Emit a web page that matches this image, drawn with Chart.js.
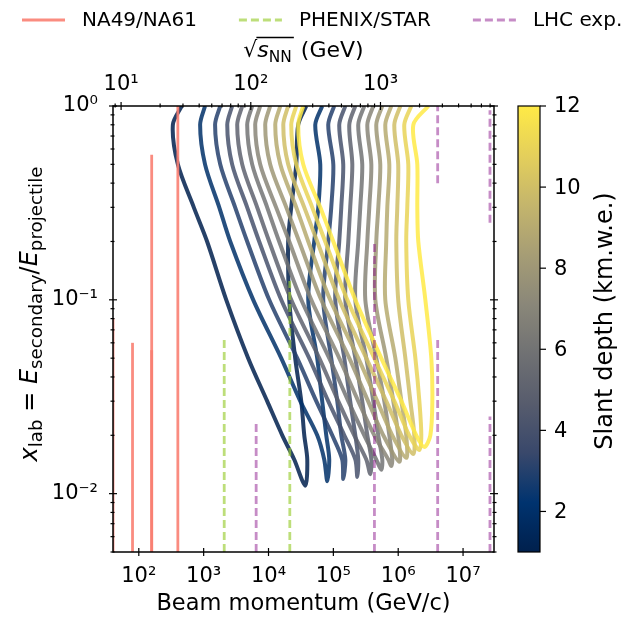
<!DOCTYPE html>
<html>
<head>
<meta charset="utf-8">
<script src="https://cdn.jsdelivr.net/npm/chart.js@4.4.1/dist/chart.umd.min.js"></script>
<style>
  html, body { margin: 0; padding: 0; background: #fff; }
  #wrap { width: 621px; height: 618px; }
</style>
</head>
<body>
<div id="wrap"><canvas id="chart" width="621" height="618"></canvas></div>
<script>
// slant depth of each contour (km.w.e.)
const depths = [1, 2, 3, 4, 5, 6, 7, 8, 9, 10, 11, 12];
const depthMin = 1;
const depthMax = 12;

const xlabLevels = [1.0, 0.8, 0.5, 0.3, 0.2, 0.1, 0.05, 0.03, 0.02, 0.015];

// beam momentum (GeV/c) of the low-momentum side of each contour, one entry per level
const leftBranch = [
  [460, 335, 400, 705, 1130, 2230, 4860, 9540, 16300, 24900],
  [1050, 882, 1050, 1740, 2570, 5810, 15700, 30900, 56400, 72300],
  [1800, 1500, 1800, 3060, 4690, 10250, 27700, 54500, 96100, 137000],
  [2750, 2310, 2750, 4690, 7180, 15700, 42400, 83400, 147500, 218000],
  [3930, 3290, 3930, 6690, 10250, 22400, 60600, 119000, 210000, 322000],
  [5600, 4690, 5600, 9540, 14600, 32000, 86400, 170000, 300000, 459000],
  [7440, 6230, 7440, 13100, 20900, 45600, 123300, 242000, 428000, 703000],
  [10600, 8890, 10600, 18800, 29700, 65000, 176000, 343000, 589000, null],
  [15200, 12700, 15200, 26800, 41000, 89300, 242000, 475000, 810000, null],
  [20100, 16900, 20100, 35600, 56400, 123300, 322000, 654000, 1120000, null],
  [26800, 22400, 26800, 47200, 74900, 164000, 428000, 871000, 1480000, null],
  [34300, 28700, 34300, 62800, 99800, 218000, 548000, 1120000, 1900000, null]
];

// lowest point of each contour
const tipMomentum = [36900, 80500, 142000, 234000, 371000, 548000, 782000, 1040000, 1330000, 1710000, 2120000, 2530000];
const tipXlab = [0.011, 0.0116, 0.0119, 0.0122, 0.0126, 0.0133, 0.0139, 0.0146, 0.0153, 0.016, 0.0168, 0.0174];

// beam momentum (GeV/c) of the high-momentum side of each contour, one entry per level
const rightBranch = [
  [38200, 28700, 26800, 22400, 20100, 20900, 25800, 32000, 35600, 39600],
  [67300, 52600, 62800, 58600, 50700, 41000, 56400, 67300, 77700, 86400],
  [103000, 83400, 99800, 92800, 83400, 69800, 92800, 115000, 132500, 153000],
  [153000, 123300, 142000, 132500, 123300, 107000, 147500, 182000, 218000, 242000],
  [218000, 176000, 196000, 182000, 170000, 153000, 218000, 279000, 334000, 385000],
  [300000, 242000, 279000, 260000, 242000, 218000, 322000, 413000, 493000, 568000],
  [413000, 334000, 385000, 358000, 334000, 311000, 459000, 610000, 729000, 810000],
  [568000, 459000, 529000, 493000, 459000, 444000, 654000, 840000, 1000000, null],
  [782000, 632000, 729000, 679000, 654000, 632000, 903000, 1120000, 1330000, null],
  [1080000, 871000, 1000000, 968000, 934000, 1000000, 1290000, 1540000, 1770000, null],
  [1590000, 1240000, 1430000, 1380000, 1330000, 1430000, 1840000, 2120000, 2270000, null],
  [2910000, 1710000, 1970000, 1970000, 2040000, 2620000, 3240000, 3360000, 3130000, null]
];

// fixed-target and collider coverage
const xlabFloor = 0.005;
const naMomentum = [40, 80, 158, 158, 400];
const naTop = [0.08, 0.06, 0.055, 0.56, 1.0];
const rhicMomentum = [2075, 21300];
const rhicTop = [0.064, 0.125];
const lhcMomentum = [6450, 430000, 4060000, 4060000, 26000000, 26000000];
const lhcLow = [0.005, 0.005, 0.005, 0.4, 0.005, 0.25];
const lhcHigh = [0.023, 0.2, 0.065, 1.0, 0.025, 0.95];

const legendLabels = ['NA49/NA61', 'PHENIX/STAR', 'LHC exp.'];
const cbarTicks = [2, 4, 6, 8, 10, 12];

const pMin = 40, pMax = 3.0e7;
const yMin = 0.005, yMax = 1;
const protonMass = 0.938;

const family = 'DejaVu Sans';
const black = '#000';
const naColor = 'rgba(250,128,114,0.9)';
const rhicColor = 'rgba(154,205,50,0.65)';
const lhcColor = 'rgba(128,0,128,0.45)';

const cividisStops = ['#00204D', '#00336F', '#39486B', '#575C6D', '#707173', '#8A8779', '#A69D75', '#C4B56C', '#E4CF5B', '#FFEA46'];
function hexToRgb(h) { return [1, 3, 5].map(i => parseInt(h.slice(i, i + 2), 16)); }
function cividis(t, alpha) {
  t = Math.min(1, Math.max(0, t));
  const pos = t * (cividisStops.length - 1);
  const i = Math.min(Math.floor(pos), cividisStops.length - 2);
  const f = pos - i;
  const a = hexToRgb(cividisStops[i]), b = hexToRgb(cividisStops[i + 1]);
  const c = a.map((v, k) => Math.round(v + (b[k] - v) * f));
  return `rgba(${c[0]},${c[1]},${c[2]},${alpha})`;
}

function isDecade(v) { const e = Math.log10(v); return Math.abs(e - Math.round(e)) < 1e-6; }
const supMap = {'-': '\u207B', '0': '\u2070', '1': '\u00B9', '2': '\u00B2', '3': '\u00B3', '4': '\u2074', '5': '\u2075', '6': '\u2076', '7': '\u2077', '8': '\u2078', '9': '\u2079'};
function decadeLabel(v) {
  if (!isDecade(v)) return '';
  return '10' + String(Math.round(Math.log10(v))).split('').map(c => supMap[c]).join('');
}
function logTicks(min, max) {
  const out = [];
  for (let e = Math.floor(Math.log10(min)); e <= Math.ceil(Math.log10(max)); e++) {
    for (let k = 1; k <= 9; k++) {
      const v = k * Math.pow(10, e);
      if (v >= min * 0.9999 && v <= max * 1.0001) out.push({value: v});
    }
  }
  return out;
}

function contourPoints(i) {
  const pts = [];
  xlabLevels.forEach((y, k) => { if (leftBranch[i][k] !== null) pts.push({x: leftBranch[i][k], y}); });
  pts.push({x: tipMomentum[i], y: tipXlab[i]});
  for (let k = xlabLevels.length - 1; k >= 0; k--) {
    if (rightBranch[i][k] !== null) pts.push({x: rightBranch[i][k], y: xlabLevels[k]});
  }
  return pts;
}

function refLine(p, lo, hi, color, dash) {
  return {
    data: [{x: p, y: lo}, {x: p, y: hi}],
    showLine: true, borderColor: color, borderWidth: 2.8, borderDash: dash,
    pointRadius: 0, order: 0, clip: 0
  };
}

const datasets = [];
depths.forEach((d, i) => {
  datasets.push({
    label: 'depth ' + d,
    data: contourPoints(i),
    showLine: true,
    borderColor: cividis((d - depthMin) / (depthMax - depthMin), 0.85),
    borderWidth: 4,
    borderJoinStyle: 'round',
    pointRadius: 0,
    tension: 0.3,
    order: 100 - i,
    clip: 0
  });
});
naMomentum.forEach((p, i) => datasets.push(refLine(p, xlabFloor, naTop[i], naColor, [])));
rhicMomentum.forEach((p, i) => datasets.push(refLine(p, xlabFloor, rhicTop[i], rhicColor, [8, 4])));
lhcMomentum.forEach((p, i) => datasets.push(refLine(p, lhcLow[i], lhcHigh[i], lhcColor, [8, 4])));

const tickFont = {family, size: 21};

function drawRun(ctx, parts, x, y, size, subScale, measureOnly) {
  parts.forEach(p => {
    const s = p.sub ? size * subScale : size;
    ctx.font = `${p.it ? 'italic ' : ''}${s}px "${family}"`;
    if (!measureOnly) ctx.fillText(p.t, x, y + (p.sub ? size * 0.22 : 0));
    x += ctx.measureText(p.t).width;
  });
  return x;
}

const decorations = {
  id: 'decorations',
  afterDraw(chart) {
    const {ctx, chartArea: a, scales} = chart;
    ctx.save();
    ctx.strokeStyle = black;
    ctx.fillStyle = black;
    const seg = (x1, y1, x2, y2) => { ctx.beginPath(); ctx.moveTo(x1, y1); ctx.lineTo(x2, y2); ctx.stroke(); };

    // tick marks
    ctx.lineWidth = 1.2;
    scales.x.ticks.forEach(t => {
      if (!isDecade(t.value)) return;
      const px = scales.x.getPixelForValue(t.value);
      seg(px, a.bottom - 4, px, a.bottom + 4);
    });
    scales.x2.ticks.forEach(t => {
      const px = scales.x2.getPixelForValue(t.value);
      if (isDecade(t.value)) seg(px, a.top - 4, px, a.top + 4);
      else seg(px, a.top - 2.5, px, a.top + 1.5);
    });
    scales.y.ticks.forEach(t => {
      const py = scales.y.getPixelForValue(t.value);
      if (isDecade(t.value)) { seg(a.left - 4, py, a.left + 4, py); seg(a.right - 4, py, a.right + 4, py); }
      else { seg(a.left - 2.5, py, a.left + 1.5, py); seg(a.right - 1.5, py, a.right + 2.5, py); }
    });
    ctx.lineWidth = 1.5;
    ctx.strokeRect(a.left, a.top, a.right - a.left, a.bottom - a.top);

    // legend row
    const styles = [[naColor, []], [rhicColor, [8, 4]], [lhcColor, [8, 4]]];
    let lx = 22;
    const ly = 20;
    ctx.font = `20px "${family}"`;
    ctx.textBaseline = 'middle';
    ctx.textAlign = 'left';
    legendLabels.forEach((label, i) => {
      ctx.strokeStyle = styles[i][0];
      ctx.lineWidth = 2.8;
      ctx.setLineDash(styles[i][1]);
      seg(lx, ly, lx + 43, ly);
      ctx.setLineDash([]);
      ctx.fillStyle = black;
      ctx.fillText(label, lx + 60, ly + 1);
      lx += 60 + ctx.measureText(label).width + 42;
    });

    // y axis title
    ctx.textBaseline = 'alphabetic';
    ctx.strokeStyle = black;
    const yParts = [
      {t: 'x', it: true}, {t: 'lab', sub: true}, {t: ' = '},
      {t: 'E', it: true}, {t: 'secondary', sub: true}, {t: '/'},
      {t: 'E', it: true}, {t: 'projectile', sub: true}
    ];
    ctx.save();
    ctx.translate(37, 314);
    ctx.rotate(-Math.PI / 2);
    const yw = drawRun(ctx, yParts, 0, 0, 24, 0.76, true);
    drawRun(ctx, yParts, -yw / 2, 0, 24, 0.76, false);
    ctx.restore();

    // top axis title: sqrt(s_NN) (GeV)
    const rootParts = [{t: 's', it: true}, {t: 'NN', sub: true}];
    const tailParts = [{t: ' (GeV)'}];
    ctx.font = `22px "${family}"`;
    const radW = ctx.measureText('\u221A').width;
    const rootW = drawRun(ctx, rootParts, 0, 0, 22, 0.7, true);
    const tailW = drawRun(ctx, tailParts, 0, 0, 22, 0.7, true);
    const tx0 = (a.left + a.right) / 2 - (radW + rootW + 2 + tailW) / 2;
    const tBase = 57;
    ctx.font = `22px "${family}"`;
    ctx.fillText('\u221A', tx0, tBase);
    drawRun(ctx, rootParts, tx0 + radW, tBase, 22, 0.7, false);
    ctx.lineWidth = 1.4;
    seg(tx0 + radW - 1, tBase - 19.5, tx0 + radW + rootW + 2, tBase - 19.5);
    drawRun(ctx, tailParts, tx0 + radW + rootW + 2, tBase, 22, 0.7, false);

    // colour bar
    const cbLeft = a.right + 24, cbRight = a.right + 46;
    const grad = ctx.createLinearGradient(0, a.bottom, 0, a.top);
    cividisStops.forEach((c, i) => grad.addColorStop(i / (cividisStops.length - 1), c));
    ctx.fillStyle = grad;
    ctx.fillRect(cbLeft, a.top, cbRight - cbLeft, a.bottom - a.top);
    ctx.lineWidth = 1.2;
    ctx.strokeStyle = black;
    ctx.strokeRect(cbLeft, a.top, cbRight - cbLeft, a.bottom - a.top);
    ctx.fillStyle = black;
    ctx.font = `21px "${family}"`;
    ctx.textBaseline = 'middle';
    cbarTicks.forEach(v => {
      const y = a.bottom - (v - depthMin) / (depthMax - depthMin) * (a.bottom - a.top);
      seg(cbRight, y, cbRight + 6, y);
      ctx.fillText(String(v), cbRight + 14, y + 1);
    });
    ctx.save();
    ctx.translate(612, 321);
    ctx.rotate(-Math.PI / 2);
    ctx.textAlign = 'center';
    ctx.textBaseline = 'alphabetic';
    ctx.font = `24px "${family}"`;
    ctx.fillText('Slant depth (km.w.e.)', 0, 0);
    ctx.restore();

    ctx.restore();
  }
};

new Chart(document.getElementById('chart'), {
  type: 'scatter',
  data: {datasets},
  options: {
    responsive: false,
    animation: false,
    devicePixelRatio: 1,
    events: [],
    layout: {padding: {left: 0, right: 127, top: 0, bottom: 0}, autoPadding: false},
    plugins: {legend: {display: false}, tooltip: {enabled: false}},
    scales: {
      x: {
        type: 'logarithmic', position: 'bottom', min: pMin, max: pMax,
        grid: {display: false}, border: {display: false},
        afterBuildTicks: s => { s.ticks = logTicks(s.min, s.max); },
        afterFit: s => { s.height = 66; },
        ticks: {autoSkip: false, maxRotation: 0, minRotation: 0, padding: 4, color: black, font: tickFont, callback: v => decadeLabel(v)},
        title: {display: true, text: 'Beam momentum (GeV/c)', color: black, font: {family, size: 22.5}, padding: {top: 0, bottom: 0}}
      },
      x2: {
        type: 'logarithmic', position: 'top',
        min: Math.sqrt(2 * protonMass * pMin), max: Math.sqrt(2 * protonMass * pMax),
        grid: {display: false}, border: {display: false},
        afterBuildTicks: s => { s.ticks = logTicks(s.min, s.max); },
        afterFit: s => { s.height = 106; },
        ticks: {autoSkip: false, maxRotation: 0, minRotation: 0, padding: 1, color: black, font: tickFont, callback: v => decadeLabel(v)}
      },
      y: {
        type: 'logarithmic', position: 'left', min: yMin, max: yMax,
        grid: {display: false}, border: {display: false},
        afterBuildTicks: s => { s.ticks = logTicks(s.min, s.max); },
        afterFit: s => { s.width = 113; },
        ticks: {autoSkip: false, padding: 7, color: black, font: tickFont, callback: v => decadeLabel(v)}
      }
    }
  },
  plugins: [decorations]
});
</script>
</body>
</html>
